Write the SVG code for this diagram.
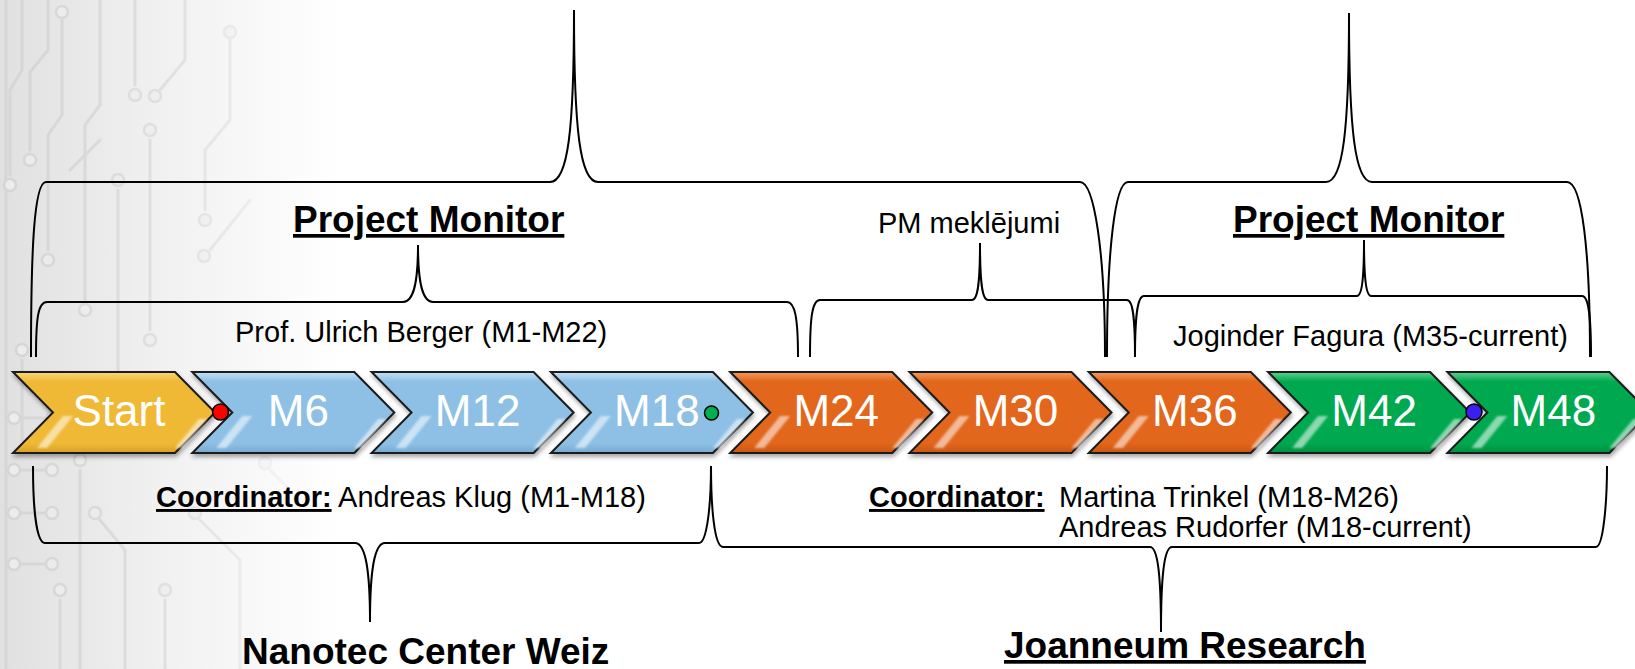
<svg xmlns="http://www.w3.org/2000/svg" width="1635" height="669" viewBox="0 0 1635 669">
<defs>
  <linearGradient id="bgGrad" x1="0" y1="0" x2="1" y2="0" gradientUnits="objectBoundingBox">
    <stop offset="0" stop-color="#e0e0e0"/>
    <stop offset="0.45" stop-color="#f0f0f0"/>
    <stop offset="1" stop-color="#ffffff"/>
  </linearGradient>
  <linearGradient id="fadeGrad" x1="0" y1="0" x2="340" y2="0" gradientUnits="userSpaceOnUse">
    <stop offset="0" stop-color="#fff"/>
    <stop offset="0.5" stop-color="#fff" stop-opacity="0.6"/>
    <stop offset="1" stop-color="#fff" stop-opacity="0"/>
  </linearGradient>
  <mask id="fadeMask" maskUnits="userSpaceOnUse" x="0" y="0" width="360" height="669">
    <rect x="0" y="0" width="360" height="669" fill="url(#fadeGrad)"/>
  </mask>
  <linearGradient id="gYellow" x1="0" y1="0" x2="0" y2="1">
    <stop offset="0" stop-color="#f8d77a"/>
    <stop offset="0.12" stop-color="#efb936"/>
    <stop offset="0.88" stop-color="#efb936"/>
    <stop offset="1" stop-color="#d99f22"/>
  </linearGradient>
  <linearGradient id="gBlue" x1="0" y1="0" x2="0" y2="1">
    <stop offset="0" stop-color="#c4e0f5"/>
    <stop offset="0.12" stop-color="#8ec0e5"/>
    <stop offset="0.88" stop-color="#8ec0e5"/>
    <stop offset="1" stop-color="#77aad2"/>
  </linearGradient>
  <linearGradient id="gOrange" x1="0" y1="0" x2="0" y2="1">
    <stop offset="0" stop-color="#f29a5e"/>
    <stop offset="0.12" stop-color="#e2661a"/>
    <stop offset="0.88" stop-color="#e2661a"/>
    <stop offset="1" stop-color="#c95612"/>
  </linearGradient>
  <linearGradient id="gGreen" x1="0" y1="0" x2="0" y2="1">
    <stop offset="0" stop-color="#5fd08f"/>
    <stop offset="0.12" stop-color="#00a94f"/>
    <stop offset="0.88" stop-color="#00a94f"/>
    <stop offset="1" stop-color="#008f40"/>
  </linearGradient>
  <filter id="shadow" x="-10%" y="-20%" width="120%" height="150%">
    <feDropShadow dx="1" dy="3" stdDeviation="2" flood-color="#000" flood-opacity="0.35"/>
  </filter>
  <filter id="soft" x="-50%" y="-50%" width="200%" height="200%">
    <feGaussianBlur stdDeviation="0.8"/>
  </filter>
  <polygon id="chev" points="0,0 162,0 202,40.5 162,81 0,81 40,40.5"/>
  <path id="streaks" d="M50,44 L60,44 L34,76 L24,76 Z M186,47 L194,47 L170,76 L162,76 Z"/>
</defs>
<style>
  .chev { stroke: #1a1a1a; stroke-width: 2; stroke-linejoin: miter; }
  .streak { fill: #ffffff; fill-opacity: 0.55; filter: url(#soft); }
  .lbl { font-family: "Liberation Sans", Arial, sans-serif; font-size: 44px; fill: #ffffff; text-anchor: middle; }
  .brace { fill: none; stroke: #000; stroke-width: 2; }
  .t { font-family: "Liberation Sans", Arial, sans-serif; font-size: 29px; fill: #000; }
  .tb { font-family: "Liberation Sans", Arial, sans-serif; font-size: 37px; font-weight: bold; fill: #000; }
  .ul { text-decoration: underline; }
  .trace { fill: none; stroke: #d5d5d5; stroke-width: 3; stroke-linecap: round; stroke-linejoin: round; }
  .pad { fill: #ececec; stroke: #d5d5d5; stroke-width: 2.5; }
  .dot { stroke: #000; stroke-width: 1.5; }
</style>

<!-- background -->
<g id="background">
  <rect x="0" y="0" width="1635" height="669" fill="#ffffff"/>
  <rect x="0" y="0" width="340" height="669" fill="url(#bgGrad)"/>
  <g mask="url(#fadeMask)">
    <path class="trace" d="M6,0 V669"/>
    <path class="trace" d="M22,0 V70 L10,90 V175"/>
    <path class="trace" d="M48,0 V50 L30,72 V150"/>
    <path class="trace" d="M62,20 V115 L48,135 V250"/>
    <path class="trace" d="M100,0 V105 L85,125 V300"/>
    <path class="trace" d="M135,0 V85"/>
    <path class="trace" d="M150,140 V330"/>
    <path class="trace" d="M118,190 V380"/>
    <path class="trace" d="M185,0 V60 L160,90"/>
    <path class="trace" d="M230,40 V120 L205,150 V210"/>
    <path class="trace" d="M210,250 L250,200"/>
    <path class="trace" d="M70,170 L100,140"/>
    <path class="trace" d="M22,360 V440"/>
    <path class="trace" d="M14,418 H52"/>
    <path class="trace" d="M14,470 H52"/>
    <path class="trace" d="M14,513 H52"/>
    <path class="trace" d="M14,564 H52"/>
    <path class="trace" d="M80,470 V669"/>
    <path class="trace" d="M100,520 L125,550 V669"/>
    <path class="trace" d="M165,600 V669"/>
    <path class="trace" d="M60,600 V669"/>
    <path class="trace" d="M200,520 L240,560 V669"/>
    <path class="trace" d="M270,470 L300,500"/>
    <circle class="pad" cx="10" cy="185" r="6"/>
    <circle class="pad" cx="30" cy="160" r="6"/>
    <circle class="pad" cx="48" cy="260" r="6"/>
    <circle class="pad" cx="62" cy="12" r="6"/>
    <circle class="pad" cx="85" cy="310" r="6"/>
    <circle class="pad" cx="135" cy="95" r="6"/>
    <circle class="pad" cx="150" cy="130" r="6"/>
    <circle class="pad" cx="150" cy="340" r="6"/>
    <circle class="pad" cx="118" cy="180" r="6"/>
    <circle class="pad" cx="118" cy="390" r="6"/>
    <circle class="pad" cx="155" cy="96" r="6"/>
    <circle class="pad" cx="230" cy="32" r="6"/>
    <circle class="pad" cx="205" cy="220" r="6"/>
    <circle class="pad" cx="204" cy="256" r="6"/>
    <circle class="pad" cx="22" cy="350" r="6"/>
    <circle class="pad" cx="14" cy="418" r="6"/>
    <circle class="pad" cx="52" cy="418" r="6"/>
    <circle class="pad" cx="14" cy="470" r="6"/>
    <circle class="pad" cx="52" cy="470" r="6"/>
    <circle class="pad" cx="14" cy="513" r="6"/>
    <circle class="pad" cx="52" cy="513" r="6"/>
    <circle class="pad" cx="14" cy="564" r="6"/>
    <circle class="pad" cx="52" cy="564" r="6"/>
    <circle class="pad" cx="80" cy="460" r="6"/>
    <circle class="pad" cx="95" cy="513" r="6"/>
    <circle class="pad" cx="165" cy="590" r="6"/>
    <circle class="pad" cx="60" cy="590" r="6"/>
    <circle class="pad" cx="195" cy="513" r="6"/>
    <circle class="pad" cx="265" cy="463" r="6"/>
  </g>
</g>

<!-- connectors: braces -->
<g id="connectors">
  <path id="brace-pm1" class="brace" d="M31,357 C31,250 34,182 46,182 L550,182 C568,182 574,130 574,10 C574,130 580,182 598,182 L1080,182 C1094,182 1105,250 1105,357"/>
  <path id="brace-pm2" class="brace" d="M1107,357 C1107,250 1115,182 1128,182 L1326,182 C1343,182 1349,130 1349,13 C1349,130 1355,182 1372,182 L1567,182 C1582,182 1590,250 1590,357"/>
  <path id="brace-berger" class="brace" d="M36,357 C36,318 38,302 47,302 L403,302 C414,302 418,282 418,245 C418,282 422,302 433,302 L787,302 C795,302 798,318 798,357"/>
  <path id="brace-search" class="brace" d="M810,357 C810,318 812,300 820,300 L972,300 C978,300 980,282 980,243 C980,282 982,300 988,300 L1127,300 C1133,300 1135,318 1135,357"/>
  <path id="brace-fagura" class="brace" d="M1135,357 C1135,318 1137,296 1144,296 L1357,296 C1362,296 1364,278 1364,240 C1364,278 1366,296 1371,296 L1582,296 C1589,296 1591,318 1591,357"/>
  <path id="brace-nanotec" class="brace" d="M33,466 C33,505 36,543 45,543 L355,543 C366,543 370,572 370,622 C370,572 374,543 385,543 L699,543 C707,543 711,505 711,466"/>
  <path id="brace-joanneum" class="brace" d="M711,466 C711,505 714,547 723,547 L1150,547 C1158,547 1161,577 1161,632 C1161,577 1164,547 1172,547 L1596,547 C1603,547 1607,505 1607,466"/>
</g>

<!-- nodes: timeline chevrons -->
<g id="node-start" transform="translate(13,372)">
  <use href="#chev" class="chev" fill="url(#gYellow)" filter="url(#shadow)"/>
  <use href="#streaks" class="streak"/>
  <text class="lbl" x="106" y="54">Start</text>
</g>
<g id="node-m6" transform="translate(192.3,372)">
  <use href="#chev" class="chev" fill="url(#gBlue)" filter="url(#shadow)"/>
  <use href="#streaks" class="streak"/>
  <text class="lbl" x="106" y="54">M6</text>
</g>
<g id="node-m12" transform="translate(371.6,372)">
  <use href="#chev" class="chev" fill="url(#gBlue)" filter="url(#shadow)"/>
  <use href="#streaks" class="streak"/>
  <text class="lbl" x="106" y="54">M12</text>
</g>
<g id="node-m18" transform="translate(550.9,372)">
  <use href="#chev" class="chev" fill="url(#gBlue)" filter="url(#shadow)"/>
  <use href="#streaks" class="streak"/>
  <text class="lbl" x="106" y="54">M18</text>
</g>
<g id="node-m24" transform="translate(730.2,372)">
  <use href="#chev" class="chev" fill="url(#gOrange)" filter="url(#shadow)"/>
  <use href="#streaks" class="streak"/>
  <text class="lbl" x="106" y="54">M24</text>
</g>
<g id="node-m30" transform="translate(909.5,372)">
  <use href="#chev" class="chev" fill="url(#gOrange)" filter="url(#shadow)"/>
  <use href="#streaks" class="streak"/>
  <text class="lbl" x="106" y="54">M30</text>
</g>
<g id="node-m36" transform="translate(1088.8,372)">
  <use href="#chev" class="chev" fill="url(#gOrange)" filter="url(#shadow)"/>
  <use href="#streaks" class="streak"/>
  <text class="lbl" x="106" y="54">M36</text>
</g>
<g id="node-m42" transform="translate(1268.1,372)">
  <use href="#chev" class="chev" fill="url(#gGreen)" filter="url(#shadow)"/>
  <use href="#streaks" class="streak"/>
  <text class="lbl" x="106" y="54">M42</text>
</g>
<g id="node-m48" transform="translate(1447.4,372)">
  <use href="#chev" class="chev" fill="url(#gGreen)" filter="url(#shadow)"/>
  <use href="#streaks" class="streak"/>
  <text class="lbl" x="106" y="54">M48</text>
</g>

<!-- marker dots -->
<g id="dots">
  <circle class="dot" cx="220.5" cy="412" r="8" fill="#ff0000"/>
  <circle class="dot" cx="711.5" cy="413" r="7" fill="#00b050"/>
  <circle class="dot" cx="1474" cy="412" r="8" fill="#3a1ff0"/>
</g>

<!-- labels -->
<g id="label-pm1"><text class="tb ul" x="293" y="232">Project Monitor</text></g>
<g id="label-pm2"><text class="tb ul" x="1233" y="232">Project Monitor</text></g>
<g id="label-search"><text class="t" x="878" y="233">PM meklējumi</text></g>
<g id="label-berger"><text class="t" x="235" y="342">Prof. Ulrich Berger (M1-M22)</text></g>
<g id="label-fagura"><text class="t" x="1173" y="346">Joginder Fagura (M35-current)</text></g>
<g id="label-coord1"><text class="t" x="156" y="507"><tspan font-weight="bold" text-decoration="underline">Coordinator:</tspan> Andreas Klug (M1-M18)</text></g>
<g id="label-coord2">
  <text class="t" x="869" y="507"><tspan font-weight="bold" text-decoration="underline">Coordinator:</tspan></text>
  <text class="t" x="1059" y="507">Martina Trinkel (M18-M26)</text>
  <text class="t" x="1059" y="537">Andreas Rudorfer (M18-current)</text>
</g>
<g id="label-nanotec"><text class="tb" x="242" y="664">Nanotec Center Weiz</text></g>
<g id="label-joanneum"><text class="tb ul" x="1004" y="658">Joanneum Research</text></g>
</svg>
